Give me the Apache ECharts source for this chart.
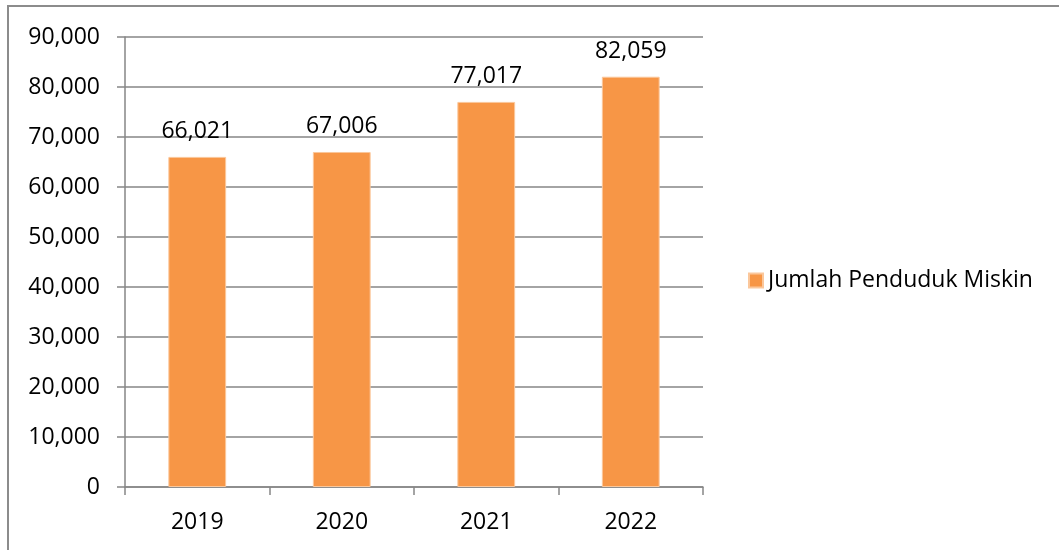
<!DOCTYPE html>
<html>
<head>
<meta charset="utf-8">
<script src="https://cdn.jsdelivr.net/npm/echarts@6/dist/echarts.min.js"></script>
<style>
html,body{margin:0;padding:0;background:#fff;overflow:hidden;}
#frame{position:absolute;left:7px;top:5px;width:1100px;height:600px;border:2px solid #8c8c8c;box-sizing:border-box;}
#chart{position:absolute;left:0;top:0;width:1059px;height:550px;}
</style>
</head>
<body>
<div id="frame"></div>
<div id="chart"></div>
<script>
const categories = ['2019', '2020', '2021', '2022'];
const seriesName = 'Jumlah Penduduk Miskin';
const values = [66021, 67006, 77017, 82059];
const yMin = 0, yMax = 90000, yInterval = 10000;

const FONT = 'Open Sans';
const FS = 23;
const fmt = v => v === 0 ? '0' : v.toLocaleString('en-US');

const chart = echarts.init(document.getElementById('chart'), null, {renderer: 'canvas'});
chart.setOption({
  backgroundColor: 'transparent',
  animation: false,
  grid: {left: 125, right: 356, top: 37, bottom: 63, containLabel: false},
  legend: {
    data: [seriesName],
    left: 743, top: 264,
    icon: 'rect', itemWidth: 14, itemHeight: 14, itemGap: 6,
    textStyle: {fontFamily: FONT, fontSize: FS, color: '#000'}
  },
  xAxis: {
    type: 'category', data: categories,
    axisLine: {lineStyle: {color: '#868686', width: 1.5}},
    axisTick: {show: true, alignWithLabel: false, length: 8, lineStyle: {color: '#868686', width: 1.5}},
    axisLabel: {fontFamily: FONT, fontSize: FS, color: '#000', margin: 24}
  },
  yAxis: {
    type: 'value', min: yMin, max: yMax, interval: yInterval,
    axisLine: {show: true, lineStyle: {color: '#868686', width: 1.5}},
    axisTick: {show: true, length: 8, lineStyle: {color: '#868686', width: 1.5}},
    splitLine: {lineStyle: {color: '#868686', width: 1.5}},
    axisLabel: {fontFamily: FONT, fontSize: FS, color: '#000', margin: 25, formatter: fmt}
  },
  series: [{
    name: seriesName, type: 'bar', data: values, barWidth: '40%',
    itemStyle: {color: '#F79646', borderColor: '#FBC79B', borderWidth: 1},
    label: {show: true, position: 'top', distance: 14, fontFamily: FONT, fontSize: FS, color: '#000', formatter: p => fmt(p.value)}
  }]
});
</script>
</body>
</html>
